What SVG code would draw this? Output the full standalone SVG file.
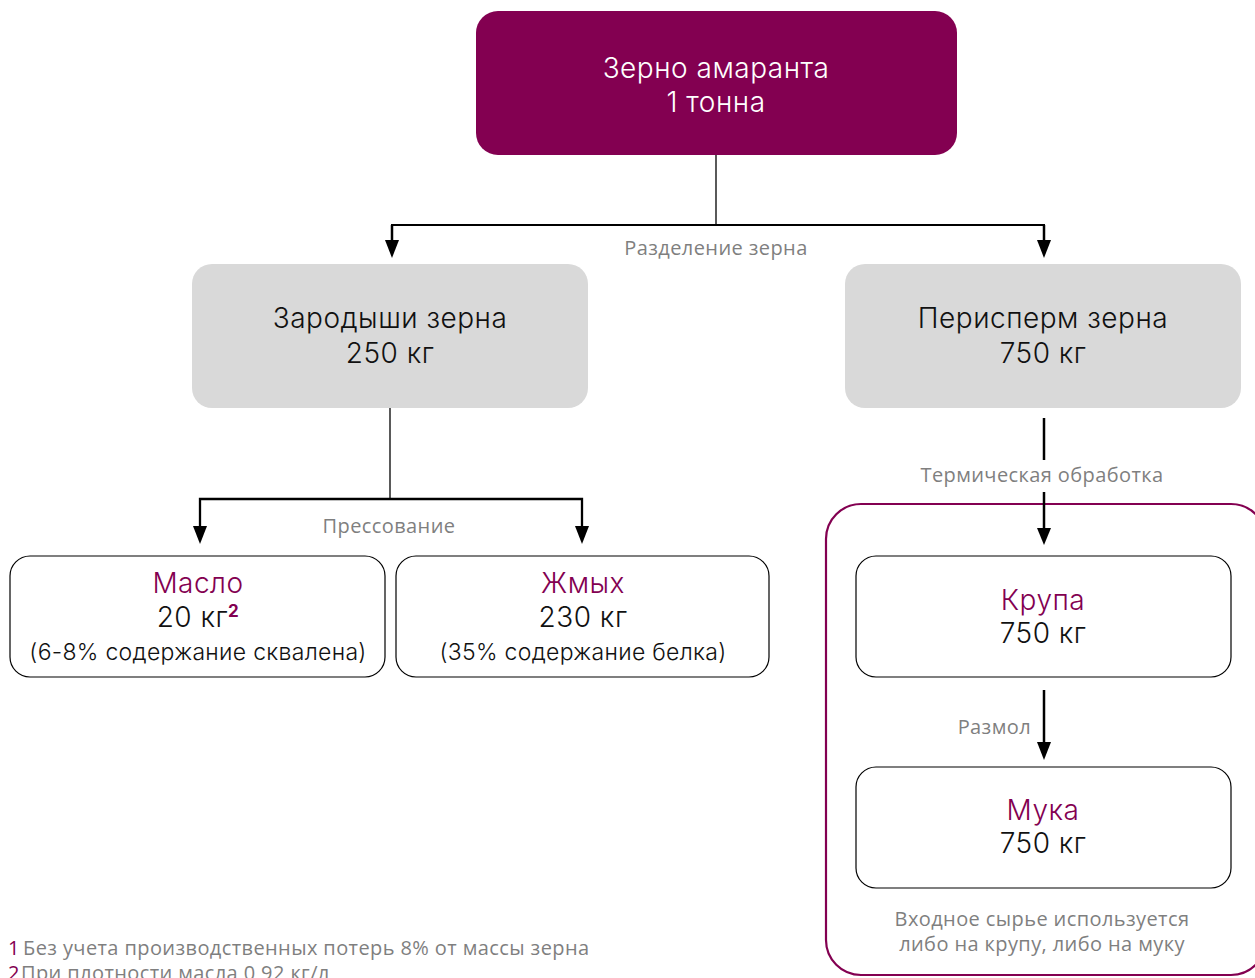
<svg xmlns="http://www.w3.org/2000/svg" width="1255" height="978" viewBox="0 0 1255 978">
<defs>
<style>
.main{font-family:Inter,"Noto Sans",sans-serif;font-weight:300;font-size:28px;letter-spacing:0.5px;text-anchor:middle;fill:#111}
.sub{font-family:Inter,"Noto Sans",sans-serif;font-weight:300;font-size:23px;letter-spacing:0.3px;text-anchor:middle;fill:#111}
.lbl{font-family:"Open Sans","Noto Sans",sans-serif;font-size:20px;letter-spacing:0.4px;fill:#7f7f7f;text-anchor:middle}
.foot{font-family:"Open Sans","Noto Sans",sans-serif;font-size:20px;letter-spacing:0.4px;fill:#7f7f7f}
.box{fill:#fff;stroke:#000;stroke-width:1.2}
.gray{fill:#d9d9d9}
.ln{stroke:#000;fill:none}
.head{fill:#000}
</style>
</defs>
<rect width="1255" height="978" fill="#fff"/>

<g id="group-frame">
<rect x="826" y="504" width="440" height="471" rx="35" fill="none" stroke="#830051" stroke-width="2.2"/>
</g>

<g id="connectors">
<line class="ln" x1="716" y1="155" x2="716" y2="225" stroke-width="1.3"/>
<polyline class="ln" points="392,242 392,225 1044,225 1044,242" stroke-width="2"/>
<line class="ln" x1="392" y1="225" x2="392" y2="241" stroke-width="2.5"/>
<line class="ln" x1="1044" y1="225" x2="1044" y2="241" stroke-width="2.5"/>
<polygon class="head" points="385,240 399,240 392,258"/>
<polygon class="head" points="1037,240 1051,240 1044,258"/>

<line class="ln" x1="390" y1="408" x2="390" y2="499" stroke-width="1.3"/>
<polyline class="ln" points="200,528 200,499 582,499 582,528" stroke-width="2.3"/>
<polygon class="head" points="193,526 207,526 200,544"/>
<polygon class="head" points="575,526 589,526 582,544"/>

<line class="ln" x1="1044" y1="418" x2="1044" y2="460" stroke-width="2.5"/>
<line class="ln" x1="1044" y1="492" x2="1044" y2="530" stroke-width="2.5"/>
<polygon class="head" points="1037,528 1051,528 1044,545"/>

<line class="ln" x1="1044" y1="690" x2="1044" y2="744" stroke-width="2.5"/>
<polygon class="head" points="1037,742 1051,742 1044,760"/>
</g>

<g id="labels">
<text class="lbl" x="716" y="255">Разделение зерна</text>
<text class="lbl" x="389" y="533">Прессование</text>
<text class="lbl" x="1042" y="482">Термическая обработка</text>
<text class="lbl" x="1031" y="734" style="text-anchor:end">Размол</text>
<text class="lbl" x="1042" y="926">Входное сырье используется</text>
<text class="lbl" x="1042" y="951">либо на крупу, либо на муку</text>
</g>

<g id="node-grain">
<rect x="476" y="11" width="481" height="144" rx="22" fill="#830051"/>
<text class="main" x="716" y="78" style="fill:#fff">Зерно амаранта</text>
<text class="main" x="716" y="112" style="fill:#fff">1 тонна</text>
</g>

<g id="node-germ">
<rect class="gray" x="192" y="264" width="396" height="144" rx="20"/>
<text class="main" x="390" y="328">Зародыши зерна</text>
<text class="main" x="390" y="363">250 кг</text>
</g>

<g id="node-perisperm">
<rect class="gray" x="845" y="264" width="396" height="144" rx="20"/>
<text class="main" x="1043" y="328">Перисперм зерна</text>
<text class="main" x="1043" y="363">750 кг</text>
</g>

<g id="node-oil">
<rect class="box" x="10" y="556" width="375" height="121" rx="20"/>
<text class="main" x="198" y="593" style="fill:#830051">Масло</text>
<text class="main" x="198" y="627">20 кг<tspan style="fill:#830051;font-weight:700;font-size:17px" dy="-10">2</tspan></text>
<text class="sub" x="198" y="660">(6-8% содержание сквалена)</text>
</g>

<g id="node-cake">
<rect class="box" x="396" y="556" width="373" height="121" rx="20"/>
<text class="main" x="583" y="593" style="fill:#830051">Жмых</text>
<text class="main" x="583" y="627">230 кг</text>
<text class="sub" x="583" y="660">(35% содержание белка)</text>
</g>

<g id="node-groats">
<rect class="box" x="856" y="556" width="375" height="121" rx="20"/>
<text class="main" x="1043" y="610" style="fill:#830051">Крупа</text>
<text class="main" x="1043" y="643">750 кг</text>
</g>

<g id="node-flour">
<rect class="box" x="856" y="767" width="375" height="121" rx="20"/>
<text class="main" x="1043" y="820" style="fill:#830051">Мука</text>
<text class="main" x="1043" y="853">750 кг</text>
</g>

<g id="footnotes">
<text class="foot" x="8" y="955"><tspan style="fill:#830051">1</tspan><tspan x="23">Без учета производственных потерь 8% от массы зерна</tspan></text>
<text class="foot" x="8" y="980"><tspan style="fill:#830051">2</tspan><tspan x="21">При плотности масла 0,92 кг/л</tspan></text>
</g>
</svg>
